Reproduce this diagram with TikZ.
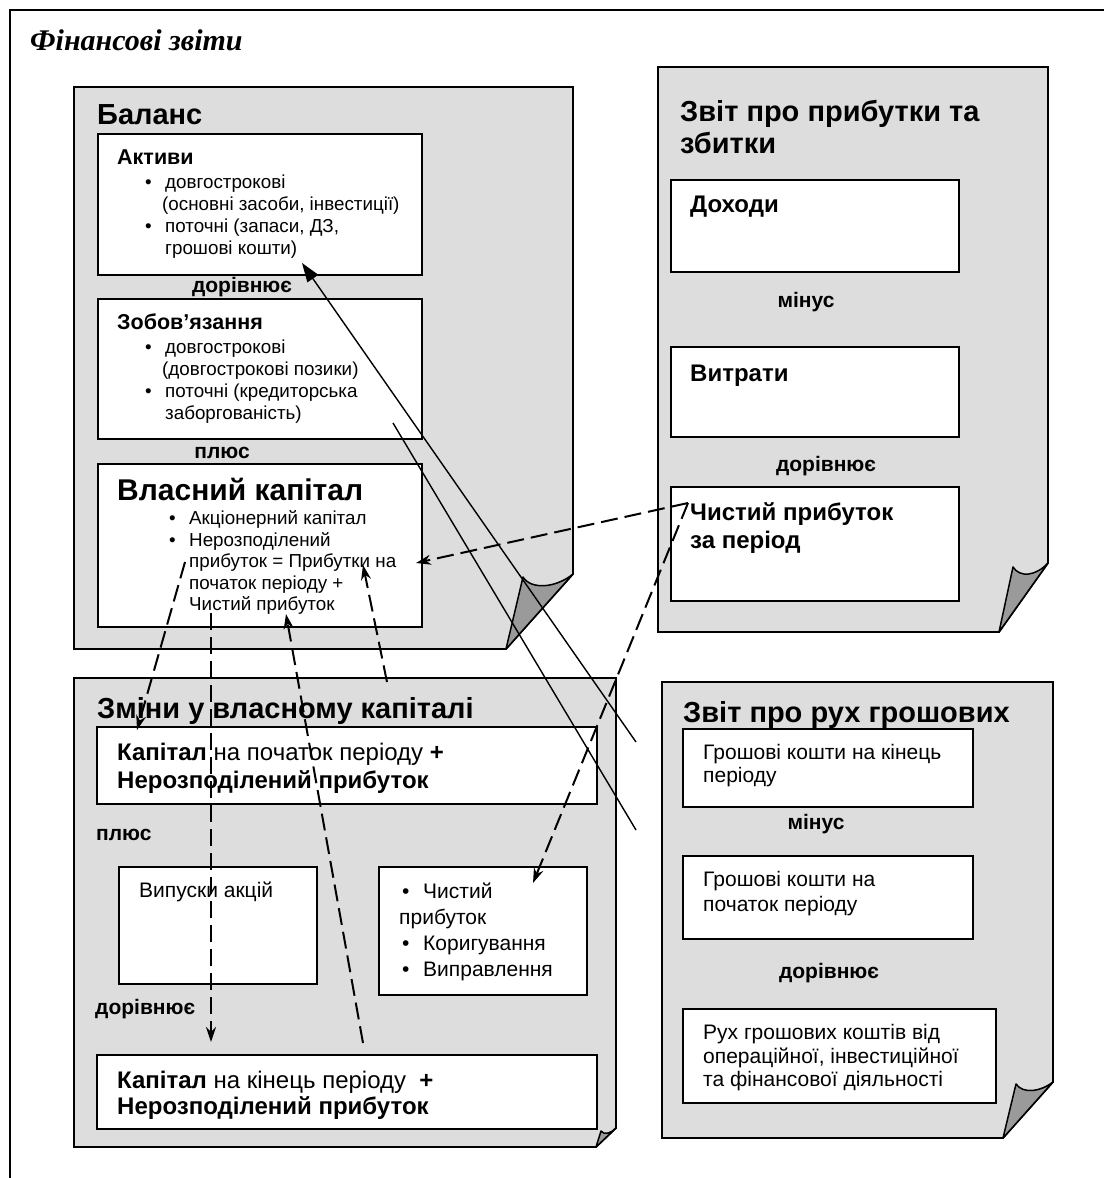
\documentclass[tikz,border=0pt]{standalone}
\usepackage{fontspec}
\setmainfont{Liberation Sans}
\newfontfamily\serifttl{Liberation Serif}
\usetikzlibrary{arrows.meta}
\definecolor{docgray}{HTML}{DDDDDD}
\definecolor{flapgray}{HTML}{9A9A9A}
\newcommand\fTtl{\fontsize{30}{34}\selectfont\serifttl\bfseries\itshape}
\newcommand\fBig{\fontsize{29}{33}\selectfont\bfseries}
\newcommand\fVk{\fontsize{30}{34}\selectfont\bfseries}
\newcommand\fHd{\fontsize{21.5}{25}\selectfont\bfseries}
\newcommand\fBd{\fontsize{18.8}{22}\selectfont}
\newcommand\fLb{\fontsize{21}{24}\selectfont\bfseries}
\newcommand\fMd{\fontsize{24}{28}\selectfont}
\newcommand\fRb{\fontsize{21}{24}\selectfont}
\newcommand\fSub{\fontsize{24}{28}\selectfont\bfseries}
\tikzset{
 docpage/.style={fill=docgray, draw=black, line width=1.8pt, line join=miter},
 flap/.style={fill=flapgray, draw=black, line width=1.5pt, line join=round},
 ibox/.style={fill=white, draw=black, line width=1.8pt, anchor=north west, inner sep=0pt},
 t/.style={anchor=base west, inner sep=0pt},
 tc/.style={anchor=base, inner sep=0pt},
 conn/.style={line width=1.4pt},
 dconn/.style={line width=2pt, dash pattern=on 17pt off 7pt},
 solidtip/.style={-{Triangle[length=19pt,width=13pt]}},
 dashtip/.style={-{Stealth[length=15pt,width=10pt,inset=5pt]}},
}
\begin{document}
\begin{tikzpicture}[x=1pt,y=-1pt]
\useasboundingbox (0,0) rectangle (1104,1178);
% outer frame
\draw[line width=1.5pt] (10,1178) -- (10,10) -- (1104,10);
\node[t,font=\fTtl] (title) at (30,50) {Фінансові звіти};

% ---------- Balance ----------
\path[docpage] (74,87) -- (573,87) -- (573,574) -- (506,649) -- (74,649) -- cycle;
\path[flap] (506,649) -- (523,577) .. controls (531,590) and (556,588) .. (573,574) -- cycle;
\node[t,font=\fBig] (balT) at (97,124) {Баланс};
\node[ibox,minimum width=324pt,minimum height=141pt] (aktBox) at (97,133) {};
\node[t,font=\fHd] (aktT) at (117,164) {Активи};
\node[t,font=\fBd] (ak1b) at (145,188) {•};
\node[t,font=\fBd] (ak1) at (165,188) {довгострокові};
\node[t,font=\fBd] (ak2) at (162,210) {(основні засоби, інвестиції)};
\node[t,font=\fBd] (ak3b) at (145,232) {•};
\node[t,font=\fBd] (ak3) at (165,232) {поточні (запаси, ДЗ,};
\node[t,font=\fBd] (ak4) at (165,254) {грошові кошти)};
\node[tc,font=\fLb] (eq1) at (242,292) {дорівнює};
\node[ibox,minimum width=324pt,minimum height=140pt] (zobBox) at (97,298) {};
\node[t,font=\fHd] (zobT) at (117,329) {Зобов’язання};
\node[t,font=\fBd] (zb1b) at (145,353) {•};
\node[t,font=\fBd] (zb1) at (165,353) {довгострокові};
\node[t,font=\fBd] (zb2) at (162,375) {(довгострокові позики)};
\node[t,font=\fBd] (zb3b) at (145,397) {•};
\node[t,font=\fBd] (zb3) at (165,397) {поточні (кредиторська};
\node[t,font=\fBd] (zb4) at (165,419) {заборгованість)};
\node[tc,font=\fLb] (plus1) at (222,458) {плюс};
\node[ibox,minimum width=324pt,minimum height=163pt] (vkBox) at (97,463) {};
\node[t,font=\fVk] (vkT) at (117,500) {Власний капітал};
\node[t,font=\fBd] (vk1b) at (169,524) {•};
\node[t,font=\fBd] (vk1) at (189,524) {Акціонерний капітал};
\node[t,font=\fBd] (vk2b) at (169,546) {•};
\node[t,font=\fBd] (vk2) at (189,546) {Нерозподілений};
\node[t,font=\fBd] (vk3) at (189,567) {прибуток = Прибутки на};
\node[t,font=\fBd] (vk4) at (189,589) {початок періоду +};
\node[t,font=\fBd] (vk5) at (189,610) {Чистий прибуток};

% ---------- Income statement ----------
\path[docpage] (658,67) -- (1048,67) -- (1048,563) -- (999,632) -- (658,632) -- cycle;
\path[flap] (999,632) -- (1013,567) .. controls (1020,578) and (1036,576) .. (1048,563) -- cycle;
\node[t,font=\fBig] (isT1) at (680,121) {Звіт про прибутки та};
\node[t,font=\fBig] (isT2) at (680,153) {збитки};
\node[ibox,minimum width=288pt,minimum height=92pt] (incBox) at (670,179) {};
\node[t,font=\fSub] (incT) at (690,212) {Доходи};
\node[tc,font=\fLb] (minus1) at (806,307) {мінус};
\node[ibox,minimum width=288pt,minimum height=90pt] (expBox) at (670,346) {};
\node[t,font=\fSub] (expT) at (690,381) {Витрати};
\node[tc,font=\fLb] (eq2) at (826,471) {дорівнює};
\node[ibox,minimum width=288pt,minimum height=114pt] (npBox) at (670,486) {};
\node[t,font=\fSub] (np1) at (690,520) {Чистий прибуток};
\node[t,font=\fSub] (np2) at (690,548) {за період};

% ---------- Changes in equity ----------
\path[docpage] (74,678) -- (616,678) -- (616,1128) -- (596,1147) -- (74,1147) -- cycle;
\path[flap] (596,1147) -- (601,1131) .. controls (604,1135) and (610,1134) .. (616,1128) -- cycle;
\node[t,font=\fBig] (ceT) at (97,718) {Зміни у власному капіталі};
\node[ibox,minimum width=500pt,minimum height=77pt] (begBox) at (96,726) {};
\node[t,font=\fMd] (beg1) at (117,760) {\textbf{Капітал} на початок періоду \textbf{+}};
\node[t,font=\fMd] (beg2) at (117,788) {\textbf{Нерозподілений прибуток}};
\node[t,font=\fLb] (plus2) at (96,840) {плюс};
\node[ibox,minimum width=198pt,minimum height=117pt] (issBox) at (118,866) {};
\node[t,font=\fRb] (issT) at (139,897) {Випуски акцій};
\node[ibox,minimum width=208pt,minimum height=128pt] (adjBox) at (378,866) {};
\node[t,font=\fRb] (adj1b) at (402,898) {•};
\node[t,font=\fRb] (adj1) at (423,898) {Чистий};
\node[t,font=\fRb] (adj2) at (399,924) {прибуток};
\node[t,font=\fRb] (adj3b) at (402,950) {•};
\node[t,font=\fRb] (adj3) at (423,950) {Коригування};
\node[t,font=\fRb] (adj4b) at (402,976) {•};
\node[t,font=\fRb] (adj4) at (423,976) {Виправлення};
\node[t,font=\fLb] (eq3) at (95,1014) {дорівнює};
\node[ibox,minimum width=500pt,minimum height=74pt] (endBox) at (96,1054) {};
\node[t,font=\fMd] (end1) at (117,1088) {\textbf{Капітал} на кінець періоду\ \ \textbf{+}};
\node[t,font=\fMd] (end2) at (117,1114) {\textbf{Нерозподілений прибуток}};

% ---------- Cash flow ----------
\path[docpage] (662,682) -- (1053,682) -- (1053,1082) -- (1003,1138) -- (662,1138) -- cycle;
\path[flap] (1003,1138) -- (1016,1084) .. controls (1023,1094) and (1040,1092) .. (1053,1082) -- cycle;
\node[t,font=\fBig] (cfT) at (683,722) {Звіт про рух грошових};
\node[ibox,minimum width=290pt,minimum height=78pt] (cashEnd) at (682,728) {};
\node[t,font=\fRb] (ce1) at (703,759) {Грошові кошти на кінець};
\node[t,font=\fRb] (ce2) at (703,782) {періоду};
\node[tc,font=\fLb] (minus2) at (816,829) {мінус};
\node[ibox,minimum width=290pt,minimum height=83pt] (cashBeg) at (682,855) {};
\node[t,font=\fRb] (cb1) at (703,886) {Грошові кошти на};
\node[t,font=\fRb] (cb2) at (703,911) {початок періоду};
\node[tc,font=\fLb] (eq4) at (829,978) {дорівнює};
\node[ibox,minimum width=313pt,minimum height=94pt] (cashFlow) at (682,1008) {};
\node[t,font=\fRb] (cf1) at (703,1039) {Рух грошових коштів від};
\node[t,font=\fRb] (cf2) at (703,1063) {операційної, інвестиційної};
\node[t,font=\fRb] (cf3) at (703,1086) {та фінансової діяльності};

% ---------- connectors ----------
\coordinate (c1s) at (636,742);
\coordinate (c1e) at (302,263);
\coordinate (c2s) at (393,423);
\coordinate (c2e) at (636,830);
\coordinate (vtx) at (688,503);
\coordinate (d1e) at (416,563);
\coordinate (d2e) at (533,883);
\coordinate (d3s) at (185,562);
\coordinate (d3e) at (137,730);
\coordinate (d4s) at (211,613);
\coordinate (d4e) at (211,1042);
\coordinate (d5s) at (363,1043);
\coordinate (d5e) at (286,614);
\coordinate (d6s) at (387,682);
\coordinate (d6e) at (363,565);
\draw[conn,solidtip] (c1s) -- (c1e);
\draw[conn] (c2s) -- (c2e);
\draw[dconn,dashtip] (vtx) -- (d1e);
\draw[dconn,dashtip] (vtx) -- (d2e);
\draw[dconn,dashtip] (d3s) -- (d3e);
\draw[dconn,dashtip] (d4s) -- (d4e);
\draw[dconn,dashtip] (d5s) -- (d5e);
\draw[dconn,dashtip] (d6s) -- (d6e);
\end{tikzpicture}
\end{document}
